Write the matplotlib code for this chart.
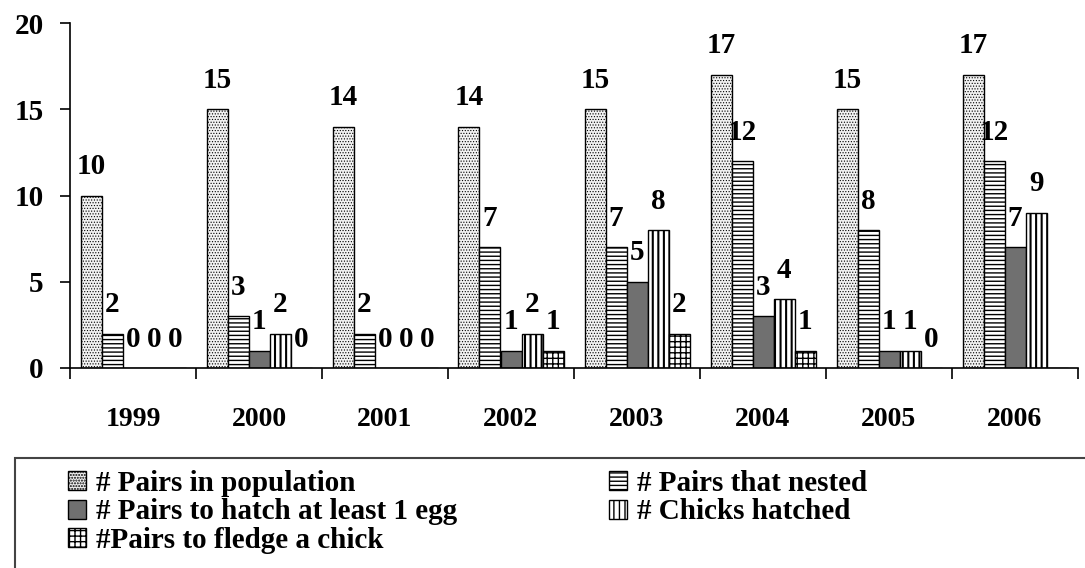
import matplotlib
matplotlib.use("Agg")
import matplotlib.pyplot as plt
import numpy as np
from matplotlib.patches import Rectangle

years = ["1999", "2000", "2001", "2002", "2003", "2004", "2005", "2006"]
series_names = ["# Pairs in population", "# Pairs that nested",
                "# Pairs to hatch at least 1 egg", "# Chicks hatched",
                "#Pairs to fledge a chick"]
pairs_population = [10, 15, 14, 14, 15, 17, 15, 17]
pairs_nested = [2, 3, 2, 7, 7, 12, 8, 12]
pairs_hatch_egg = [0, 1, 0, 1, 5, 3, 1, 7]
chicks_hatched = [0, 2, 0, 2, 8, 4, 1, 9]
pairs_fledge = [0, 0, 0, 1, 2, 1, 0, None]

series = [pairs_population, pairs_nested, pairs_hatch_egg, chicks_hatched, pairs_fledge]
styles = [
    dict(facecolor="#f2f2f2", hatch="......", hlw=0.5),
    dict(facecolor="white", hatch="----", hlw=1.0),
    dict(facecolor="#707070", hatch="", hlw=1.0),
    dict(facecolor="white", hatch="|||", hlw=1.5),
    dict(facecolor="white", hatch="+++", hlw=1.0),
]

plt.rcParams['font.family'] = ['Liberation Serif', 'DejaVu Serif']
plt.rcParams['font.weight'] = 'bold'

fig = plt.figure(figsize=(10.85, 5.68), dpi=100)
ax = fig.add_axes([70/1085, 1-368/568, (1078-70)/1085, (368-23)/568])

x = np.arange(len(years))
w = 1/6
handles = []
for i, (vals, st) in enumerate(zip(series, styles)):
    xs = x - 2*w + i*w
    v = [0 if a is None else a for a in vals]
    with plt.rc_context({'hatch.linewidth': st['hlw'], 'hatch.color': 'black'}):
        bars = ax.bar(xs, v, width=w, facecolor=st['facecolor'], edgecolor='black',
                      hatch=st['hatch'], linewidth=1.0, label=series_names[i])
    handles.append(bars)
    for xi, a in zip(xs, vals):
        if a is None:
            continue
        ax.annotate(str(a), (xi, a), xytext=(0, 11), textcoords='offset points',
                    ha='center', va='bottom', fontsize=21, fontweight='bold')

ax.set_xlim(-0.5, len(years)-0.5)
ax.set_ylim(0, 20)
ax.set_yticks([0, 5, 10, 15, 20])
ax.tick_params(axis='y', direction='out', length=7, width=1.2, labelsize=21, pad=12)
ax.set_xticks(x)
ax.set_xticklabels(years)
ax.tick_params(axis='x', length=0, labelsize=20, pad=28)
ax.set_xticks(np.arange(len(years)+1)-0.5, minor=True)
ax.tick_params(axis='x', which='minor', direction='out', length=8, width=1.2)
for s in ['top', 'right']:
    ax.spines[s].set_visible(False)
ax.spines['left'].set_linewidth(1.2)
ax.spines['bottom'].set_linewidth(1.2)
ax.spines['left'].set_bounds(0, 20)

# legend box
fig.patches.append(Rectangle((15/1085, -0.05), 1.1, 1-458/568+0.05, transform=fig.transFigure,
                             facecolor='none', edgecolor='#444444', linewidth=1.5))
order = [0, 2, 4, 1, 3]
leg = fig.legend([handles[k] for k in order], [series_names[k] for k in order],
                 loc='upper left', bbox_to_anchor=(68/1085, 1-470/568), ncol=2,
                 frameon=False, fontsize=21, handlelength=0.62, handleheight=0.62,
                 handletextpad=0.35, columnspacing=5.2, labelspacing=0.05,
                 borderaxespad=0, borderpad=0)
fig.savefig("out.png", dpi=100)
